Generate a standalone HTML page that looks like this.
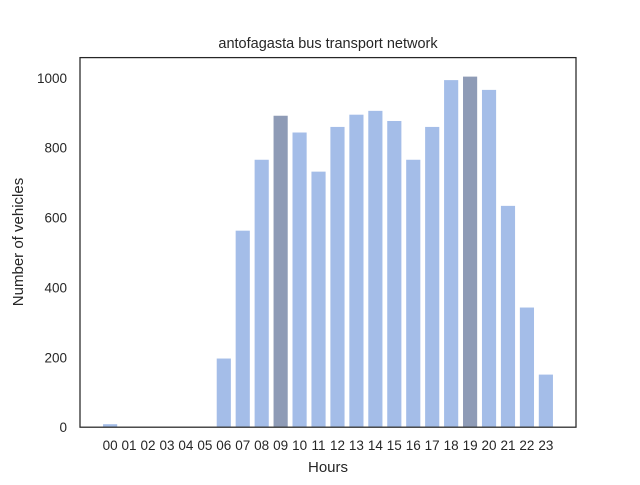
<!DOCTYPE html>
<html><head><meta charset="utf-8"><style>
body{margin:0;background:#fff;}
svg text{font-family:"Liberation Sans",Arial,sans-serif;fill:#262626;}
</style></head><body>
<svg width="640" height="480" xmlns="http://www.w3.org/2000/svg">
<rect width="640" height="480" fill="#fff"/>
<g id="bars"></g>
<g id="xt"></g>
<g id="yt"></g>
<rect x="80" y="57.6" width="496" height="369.6" fill="none" stroke="#262626" stroke-width="1.25"/>
<text x="328" y="48" text-anchor="middle" font-size="14.5">antofagasta bus transport network</text>
<text x="328" y="472" text-anchor="middle" font-size="15">Hours</text>
<text x="23" y="242" text-anchor="middle" font-size="15" transform="rotate(-90 23 242)">Number of vehicles</text>
</svg>
<script>
const categories=["00","01","02","03","04","05","06","07","08","09","10","11","12","13","14","15","16","17","18","19","20","21","22","23"];
const values=[10,0,0,0,0,0,198,564,767,893,845,733,861,896,907,878,767,861,995,1005,967,635,344,152];
const highlighted=["09","19"];
const yTicks=[0,200,400,600,800,1000];
const NS="http://www.w3.org/2000/svg";
const L=80,R=576,T=57.6,B=427.2,YMAX=1058;
const xmin=-1.59,xmax=categories.length-1+1.59;
function xs(i){return L+(i-xmin)/(xmax-xmin)*(R-L);}
function ys(v){return B-v/YMAX*(B-T);}
const bars=document.getElementById('bars'),xt=document.getElementById('xt'),yt=document.getElementById('yt');
categories.forEach((c,i)=>{
  const x0=xs(i-0.4),x1=xs(i+0.4);
  const r=document.createElementNS(NS,'rect');
  r.setAttribute('x',x0);r.setAttribute('width',x1-x0);
  r.setAttribute('y',ys(values[i]));r.setAttribute('height',B-ys(values[i]));
  r.setAttribute('fill',highlighted.includes(c)?'#8e9bb6':'#a4bde8');
  r.setAttribute('stroke','#fff');r.setAttribute('stroke-width','1');
  
  
  bars.appendChild(r);
  const t=document.createElementNS(NS,'text');
  t.setAttribute('x',xs(i));t.setAttribute('y',B+23);
  t.setAttribute('text-anchor','middle');t.setAttribute('font-size','13.5');
  t.textContent=c;
  
  
  xt.appendChild(t);
});
yTicks.forEach(v=>{
  const t=document.createElementNS(NS,'text');
  t.setAttribute('x',L-13);t.setAttribute('y',ys(v)+5);
  t.setAttribute('text-anchor','end');t.setAttribute('font-size','13.5');
  t.textContent=v;
  
  
  yt.appendChild(t);
});
</script>
</body></html>
